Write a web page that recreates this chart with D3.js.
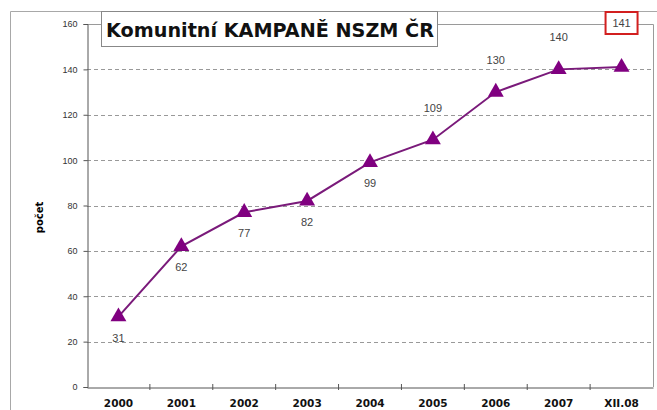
<!DOCTYPE html>
<html>
<head>
<meta charset="utf-8">
<script src="https://cdn.jsdelivr.net/npm/d3@7"></script>
<style>
  body { margin: 0; background: #fff; }
  svg { display: block; }
</style>
</head>
<body>
<svg id="chart" width="657" height="410"></svg>
<script>
// data
const years = ['2000', '2001', '2002', '2003', '2004', '2005', '2006', '2007', 'XII.08'];
const counts = [31, 62, 77, 82, 99, 109, 130, 140, 141];
const labelBelow = [true, true, true, true, true, false, false, false, false];
const yTicks = [0, 20, 40, 60, 80, 100, 120, 140, 160];
const title = 'Komunitní KAMPANĚ NSZM ČR';
const yLabel = 'počet';

const svg = d3.select('#chart');
const plotLeft = 87, plotRight = 653, plotTop = 24, plotBottom = 387;

// outer frame of the chart
svg.append('path')
  .attr('d', `M10.5,420 V11.5 H670`)
  .attr('fill', 'none')
  .attr('stroke', '#a8a8a8')
  .attr('stroke-width', 1);

const x = d3.scaleBand().domain(years).range([plotLeft, plotRight]);
const y = d3.scaleLinear().domain([0, 160]).range([plotBottom, plotTop]);

// plot area border (top + right)
svg.append('path')
  .attr('d', `M${plotLeft},${plotTop + 0.5} H${plotRight + 0.5} V${plotBottom}`)
  .attr('fill', 'none')
  .attr('stroke', '#9a9a9a');

// gridlines
svg.append('g').selectAll('line')
  .data(yTicks.filter(d => d > 0 && d < 160))
  .join('line')
  .attr('x1', plotLeft).attr('x2', plotRight)
  .attr('y1', d => Math.round(y(d)) + 0.5).attr('y2', d => Math.round(y(d)) + 0.5)
  .attr('stroke', '#999')
  .attr('stroke-dasharray', '4,3');

// y axis
const yAxis = svg.append('g')
  .attr('transform', `translate(${plotLeft + 0.5},0)`)
  .call(d3.axisLeft(y).tickValues(yTicks).tickSize(4).tickPadding(6));
yAxis.select('.domain').attr('stroke', '#555');
yAxis.selectAll('.tick line').attr('stroke', '#555');
yAxis.selectAll('text')
  .attr('fill', '#333')
  .style('font-family', 'Liberation Sans, Arial, sans-serif')
  .style('font-size', '9px');

// x axis, ticks on category boundaries
const xAxis = svg.append('g')
  .attr('transform', `translate(0,${plotBottom + 0.5})`)
  .call(d3.axisBottom(x).tickSize(0).tickPadding(12));
xAxis.select('.domain').attr('stroke', '#555');
xAxis.selectAll('text')
  .attr('fill', '#111')
  .style('font-family', 'DejaVu Sans, Verdana, sans-serif')
  .style('font-weight', 'bold')
  .style('font-size', '10.5px');
svg.append('g').selectAll('line')
  .data(years.slice(1))
  .join('line')
  .attr('x1', d => x(d)).attr('x2', d => x(d))
  .attr('y1', plotBottom - 3).attr('y2', plotBottom + 3)
  .attr('stroke', '#555');

// y label
svg.append('text')
  .attr('transform', `translate(43,${(plotTop + plotBottom) / 2 + 12}) rotate(-90)`)
  .attr('text-anchor', 'middle')
  .style('font-family', 'DejaVu Sans, Verdana, sans-serif')
  .style('font-weight', 'bold')
  .style('font-size', '10px')
  .text(yLabel);

// line
const cx = d => x(d) + x.bandwidth() / 2;
svg.append('path')
  .datum(counts)
  .attr('fill', 'none')
  .attr('stroke', '#7a1a7a')
  .attr('stroke-width', 2)
  .attr('d', d3.line().x((d, i) => cx(years[i])).y(d => y(d)));

// triangle markers
svg.append('g').selectAll('path')
  .data(counts)
  .join('path')
  .attr('transform', (d, i) => `translate(${cx(years[i])},${y(d)})`)
  .attr('d', d3.symbol(d3.symbolTriangle, 110))
  .attr('fill', '#800080');

// data labels (last one goes into the red box)
svg.append('g').selectAll('text')
  .data(counts.slice(0, -1))
  .join('text')
  .attr('x', (d, i) => cx(years[i]))
  .attr('y', (d, i) => y(d) + (labelBelow[i] ? 25 : -28))
  .attr('text-anchor', 'middle')
  .attr('fill', '#444')
  .style('font-family', 'Liberation Sans, Arial, sans-serif')
  .style('font-size', '11px')
  .text(d => d);

// red box with the last value
const lastX = cx(years[years.length - 1]);
svg.append('rect')
  .attr('x', lastX - 16).attr('y', 12)
  .attr('width', 32).attr('height', 22)
  .attr('fill', '#fff')
  .attr('stroke', '#d21f1f')
  .attr('stroke-width', 2);
svg.append('text')
  .attr('x', lastX).attr('y', 27)
  .attr('text-anchor', 'middle')
  .attr('fill', '#444')
  .style('font-family', 'Liberation Sans, Arial, sans-serif')
  .style('font-size', '11px')
  .text(counts[counts.length - 1]);

// title box
svg.append('rect')
  .attr('x', 101.5).attr('y', 11.5)
  .attr('width', 336).attr('height', 35)
  .attr('fill', '#fff')
  .attr('stroke', '#888');
svg.append('text')
  .attr('x', 270).attr('y', 37)
  .attr('text-anchor', 'middle')
  .style('font-family', 'DejaVu Sans, Verdana, sans-serif')
  .style('font-weight', 'bold')
  .style('font-size', '19.2px')
  .attr('fill', '#111')
  .text(title);
</script>
</body>
</html>
